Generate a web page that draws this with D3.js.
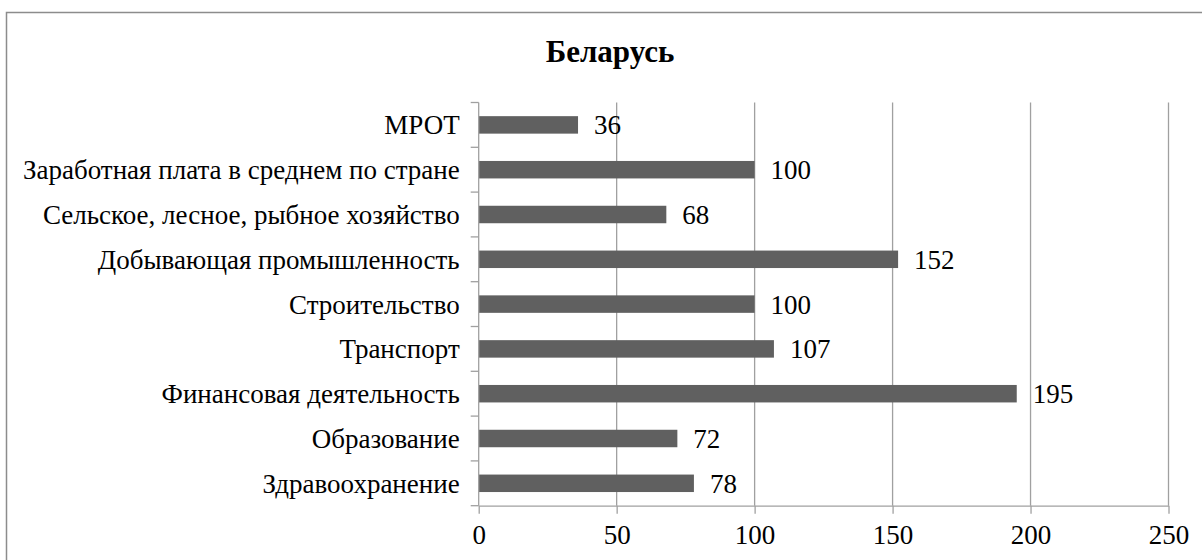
<!DOCTYPE html>
<html><head><meta charset="utf-8">
<script src="https://cdn.jsdelivr.net/npm/d3@7"></script>
<style>html,body{margin:0;padding:0;background:#fff;}svg{display:block;}</style>
</head><body>
<svg id="c" width="1202" height="560"></svg>
<script>
const categories = ["МРОТ","Заработная плата в среднем по стране","Сельское, лесное, рыбное хозяйство","Добывающая промышленность","Строительство","Транспорт","Финансовая деятельность","Образование","Здравоохранение"];
const values = [36,100,68,152,100,107,195,72,78];
const xTicks = [0,50,100,150,200,250];
const title = "Беларусь";

const FF = "Liberation Serif";
const FS = "27px";
const svg = d3.select("#c");
svg.append("rect").attr("x",6.5).attr("y",12.5).attr("width",1210).attr("height",560)
  .attr("fill","#fff").attr("stroke","#8c8c8c").attr("stroke-width",1.5);

const L=478.7, R=1168.5, T=102.5, B=505.7;
const x = d3.scaleLinear().domain([0,250]).range([L,R]);
const y = d3.scaleBand().domain(categories).range([T,B]).paddingInner(0.61).paddingOuter(0.305);
const step = y.step();

svg.append("text").attr("x",610).attr("y",62).attr("text-anchor","middle")
  .style("font-family",FF).style("font-weight","bold").style("font-size","31px").text(title);

svg.append("g").selectAll("line").data(xTicks.slice(1)).join("line")
  .attr("x1",d=>x(d)).attr("x2",d=>x(d)).attr("y1",T).attr("y2",B)
  .attr("stroke","#a0a0a0").attr("stroke-width",1.3);

svg.append("g").selectAll("rect").data(values).join("rect")
  .attr("x",x(0)).attr("y",(d,i)=>y(categories[i])).attr("width",d=>x(d)-x(0))
  .attr("height",y.bandwidth()).attr("fill","#606060");

svg.append("g").selectAll("text").data(values).join("text")
  .attr("x",d=>x(d)+16).attr("y",(d,i)=>y(categories[i])+y.bandwidth()/2+9.5)
  .style("font-family",FF).style("font-size",FS).attr("fill","#000").text(d=>d);

const xa = svg.append("g").attr("transform",`translate(0,${B})`)
  .call(d3.axisBottom(x).tickValues(xTicks).tickSize(8).tickPadding(11).tickSizeOuter(0));
xa.select(".domain").attr("stroke","#a0a0a0").attr("stroke-width",1.3);
xa.selectAll(".tick line").attr("stroke","#a0a0a0").attr("stroke-width",1.3);
xa.selectAll("text").style("font-family",FF).style("font-size",FS).attr("fill","#000");

const ya = svg.append("g").attr("transform",`translate(${L},0)`);
ya.append("line").attr("x1",0).attr("x2",0).attr("y1",T).attr("y2",B)
  .attr("stroke","#a0a0a0").attr("stroke-width",1.3);
const bounds = d3.range(categories.length+1).map(i=>T+i*step);
ya.selectAll("line.t").data(bounds).join("line").attr("class","t")
  .attr("x1",-8).attr("x2",0).attr("y1",d=>d).attr("y2",d=>d)
  .attr("stroke","#a0a0a0").attr("stroke-width",1.3);
ya.selectAll("text").data(categories).join("text")
  .attr("x",-19).attr("y",d=>y(d)+y.bandwidth()/2+9.5)
  .attr("text-anchor","end").style("font-family",FF).style("font-size",FS).attr("fill","#000").text(d=>d);
</script>
</body></html>
